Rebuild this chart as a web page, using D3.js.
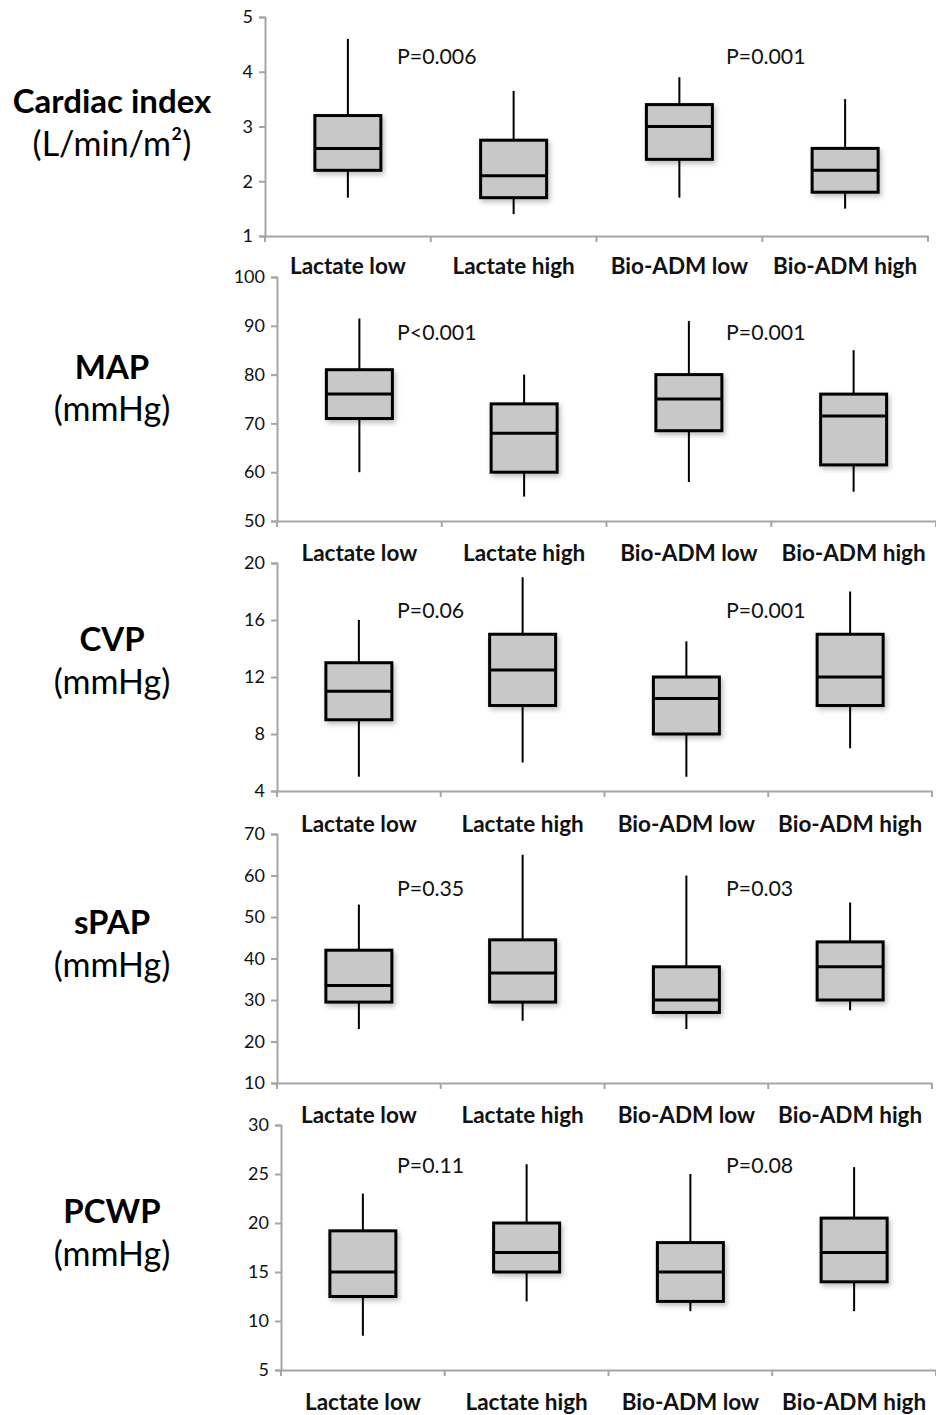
<!DOCTYPE html>
<html><head><meta charset="utf-8">
<script src="https://cdn.jsdelivr.net/npm/d3@7"></script>
<style>body{margin:0;background:#fff}svg{display:block}</style>
</head><body>
<svg id="c" width="936" height="1415"></svg>
<script>
const categories = ["Lactate low", "Lactate high", "Bio-ADM low", "Bio-ADM high"];
// each entry: [whisker low, Q1, median, Q3, whisker high]
const cardiacIndex = [[1.7,2.2,2.6,3.2,4.6],[1.4,1.7,2.1,2.75,3.65],[1.7,2.4,3.0,3.4,3.9],[1.5,1.8,2.2,2.6,3.5]];
const mapValues    = [[60,71,76,81,91.5],[55,60,68,74,80],[58,68.5,75,80,91],[56,61.5,71.5,76,85]];
const cvpValues    = [[5,9,11,13,16],[6,10,12.5,15,19],[5,8,10.5,12,14.5],[7,10,12,15,18]];
const spapValues   = [[23,29.5,33.5,42,53],[25,29.5,36.5,44.5,65],[23,27,30,38,60],[27.5,30,38,44,53.5]];
const pcwpValues   = [[8.5,12.5,15,19.2,23],[12,15,17,20,26],[11,12,15,18,25],[11,14,17,20.5,25.7]];
const ciTicks   = [1,2,3,4,5];
const mapTicks  = [50,60,70,80,90,100];
const cvpTicks  = [4,8,12,16,20];
const spapTicks = [10,20,30,40,50,60,70];
const pcwpTicks = [5,10,15,20,25,30];
const pLabels = [["P=0.006","P=0.001"],["P<0.001","P=0.001"],["P=0.06","P=0.001"],["P=0.35","P=0.03"],["P=0.11","P=0.08"]];
const titles = [["Cardiac index","(L/min/m²)"],["MAP","(mmHg)"],["CVP","(mmHg)"],["sPAP","(mmHg)"],["PCWP","(mmHg)"]];

const layout = [
  {data: cardiacIndex, ticks: ciTicks,   left:265, right:928, top:17,   bottom:236,  labY:274,  pY:64,   tY:[113,156]},
  {data: mapValues,    ticks: mapTicks,  left:277, right:936, top:277,  bottom:521,  labY:561,  pY:340,  tY:[379,421]},
  {data: cvpValues,    ticks: cvpTicks,  left:277, right:932, top:563,  bottom:791,  labY:832,  pY:618,  tY:[651,694]},
  {data: spapValues,   ticks: spapTicks, left:277, right:932, top:834,  bottom:1083, labY:1123, pY:896,  tY:[934,977]},
  {data: pcwpValues,   ticks: pcwpTicks, left:281, right:936, top:1125, bottom:1370, labY:1410, pY:1173, tY:[1223,1266]}
];

const svg = d3.select("#c");
const defs = svg.append("defs");
const f = defs.append("filter").attr("id","sh").attr("x","-20%").attr("y","-20%").attr("width","150%").attr("height","150%");
f.append("feDropShadow").attr("dx",2).attr("dy",3).attr("stdDeviation",2.5).attr("flood-color","#000").attr("flood-opacity",0.25);

const font = "Lato, 'Open Sans', sans-serif";

layout.forEach((L, i) => {
  const g = svg.append("g");
  const ext = d3.extent(L.ticks);
  const y = d3.scaleLinear().domain(ext).range([L.bottom, L.top]);
  const x = d3.scaleBand().domain(categories).range([L.left, L.right]);

  // y axis
  const ya = g.append("g").attr("transform", `translate(${L.left},0)`)
    .call(d3.axisLeft(y).tickValues(L.ticks).tickSize(6).tickPadding(6).tickFormat(d3.format("d")));
  ya.select(".domain").attr("stroke","#a6a6a6").attr("stroke-width",2);
  ya.selectAll(".tick line").attr("stroke","#a6a6a6").attr("stroke-width",2);
  ya.selectAll(".tick text").attr("font-family",font).attr("font-size",18).attr("fill","#111");

  // x axis
  const xa = g.append("g").attr("transform", `translate(0,${L.bottom})`)
    .call(d3.axisBottom(x).tickSize(0).tickFormat(""));
  xa.select(".domain").attr("stroke","#a6a6a6").attr("stroke-width",2);
  xa.selectAll(".tick").remove();
  const bounds = categories.map(c => x(c)).concat([L.right]);
  g.selectAll(".xt").data(bounds).join("line")
    .attr("x1", d => d).attr("x2", d => d).attr("y1", L.bottom).attr("y2", L.bottom + 6)
    .attr("stroke","#a6a6a6").attr("stroke-width",2);

  // category labels
  g.selectAll(".cl").data(categories).join("text")
    .attr("x", d => x(d) + x.bandwidth()/2).attr("y", L.labY)
    .attr("text-anchor","middle").attr("font-family",font).attr("font-weight","bold")
    .attr("font-size",22.5).attr("fill","#111").text(d => d);

  const bw = 66;
  const boxes = g.selectAll(".bx").data(L.data.map((v, j) => ({v, c: categories[j]}))).join("g");
  // whiskers
  boxes.append("line")
    .attr("x1", d => x(d.c) + x.bandwidth()/2).attr("x2", d => x(d.c) + x.bandwidth()/2)
    .attr("y1", d => y(d.v[0])).attr("y2", d => y(d.v[4]))
    .attr("stroke","#000").attr("stroke-width",2);
  // box
  boxes.append("rect")
    .attr("x", d => x(d.c) + x.bandwidth()/2 - bw/2).attr("width", bw)
    .attr("y", d => y(d.v[3])).attr("height", d => y(d.v[1]) - y(d.v[3]))
    .attr("fill","#c8c8c8").attr("stroke","#000").attr("stroke-width",3)
    .attr("filter","url(#sh)");
  // median
  boxes.append("line")
    .attr("x1", d => x(d.c) + x.bandwidth()/2 - bw/2).attr("x2", d => x(d.c) + x.bandwidth()/2 + bw/2)
    .attr("y1", d => y(d.v[2])).attr("y2", d => y(d.v[2]))
    .attr("stroke","#000").attr("stroke-width",3);

  // p labels
  g.selectAll(".pl").data(pLabels[i]).join("text")
    .attr("x", (d, k) => k === 0 ? 397 : 726).attr("y", L.pY)
    .attr("font-family",font).attr("font-size",21.3).attr("fill","#111").text(d => d);

  // titles
  g.append("text").attr("x",112).attr("y",L.tY[0]).attr("text-anchor","middle")
    .attr("font-family",font).attr("font-weight","bold").attr("font-size",33).attr("fill","#000").text(titles[i][0]);
  g.append("text").attr("x",112).attr("y",L.tY[1]).attr("text-anchor","middle")
    .attr("font-family",font).attr("font-size",34).attr("fill","#000").text(titles[i][1]);
});
</script>
</body></html>
